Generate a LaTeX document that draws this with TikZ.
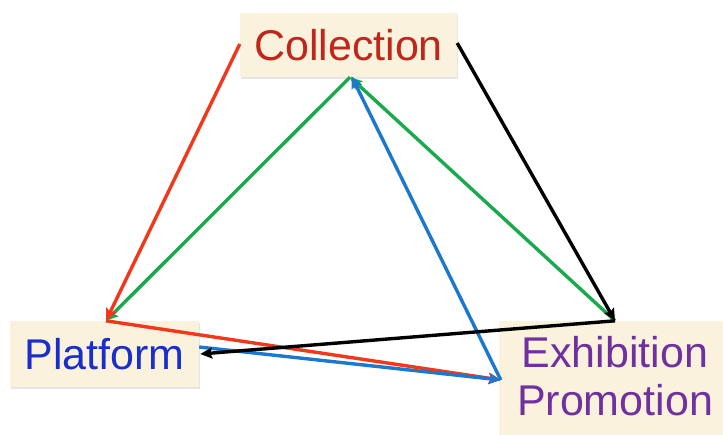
\documentclass[tikz,border=0pt]{standalone}
\usepackage{fontspec}
\setmainfont{Liberation Sans}
\usetikzlibrary{arrows.meta,shadows}
\definecolor{boxfill}{HTML}{FAF2DC}
\definecolor{ctext}{HTML}{C0261C}
\definecolor{ptext}{HTML}{1A2ECC}
\definecolor{etext}{HTML}{7030A0}
\definecolor{lred}{HTML}{F2381A}
\definecolor{lgreen}{HTML}{19AA4E}
\definecolor{lblue}{HTML}{1C78CC}
\tikzset{
  box/.style={rectangle, fill=boxfill, inner sep=0pt, draw=none,
    drop shadow={shadow xshift=1pt, shadow yshift=-1.5pt, opacity=0.25, fill=black!40}},
  lbl/.style={font=\fontsize{43}{48}\selectfont, inner sep=0pt},
  conn/.style={line width=3.4pt, -{Stealth[length=12pt,width=11pt,inset=2pt]}}
}
\begin{document}
\begin{tikzpicture}[x=1pt,y=-1pt]
\useasboundingbox (0,0) rectangle (723,434);
\fill[white] (0,0) rectangle (723,434);
% boxes
\node[box, minimum width=217pt, minimum height=64pt] (C) at (348.5,45) {};
\node[lbl, text=ctext] (Ct) at (C.center) {Collection};
\node[box, minimum width=189pt, minimum height=66pt] (P) at (104.5,354) {};
\node[lbl, text=ptext] (Pt) at (P.center) {Platform};
\node[box, minimum width=232pt, minimum height=118pt] (E) at (615,380) {};
\node[lbl, text=etext, align=center] (Et) at (615,376) {Exhibition\\Promotion};
% connectors
\draw[conn, lgreen] (E.north) -- ([xshift=1.5pt]C.south);
\draw[conn, lgreen] ([xshift=1.5pt]C.south) -- ([xshift=1.5pt]P.north);
\draw[conn, lred] ([yshift=1pt]C.west) -- ([xshift=1.5pt]P.north);
\draw[conn, lred] ([xshift=1.5pt]P.north) -- ([xshift=2pt]E.west);
\draw[conn, lblue] ([yshift=7pt]P.east) -- ([xshift=2pt]E.west);
\draw[conn, lblue] ([xshift=2pt]E.west) -- ([xshift=3pt,yshift=1pt]C.south);
\draw[conn, black] ([yshift=2pt]C.east) -- (E.north);
\draw[conn, black] (E.north) -- ([xshift=1pt]P.east);
\end{tikzpicture}
\end{document}
